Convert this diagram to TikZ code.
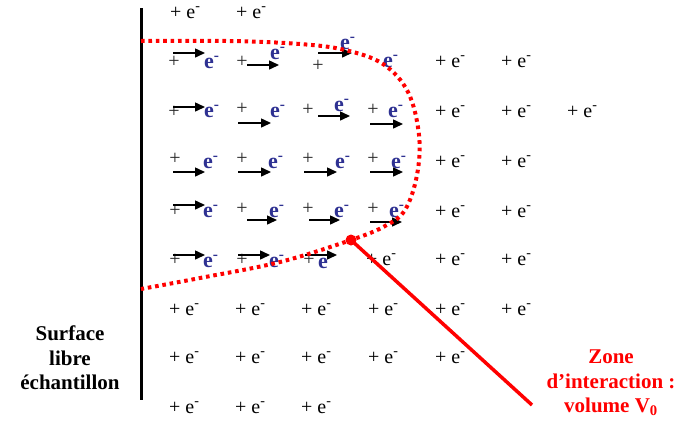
\documentclass[tikz,border=0pt]{standalone}
\usepackage{fontspec}
\setmainfont{Liberation Serif}
\newfontfamily\tms{Liberation Serif}
\usetikzlibrary{arrows.meta}
\definecolor{eblue}{RGB}{46,49,146}
\definecolor{zred}{RGB}{255,0,0}
\tikzset{
  pe/.style={inner sep=0pt, anchor=base west, font=\tms\fontsize{20}{22}\selectfont},
  pl/.style={inner sep=0pt, font=\tms\fontsize{20}{22}\selectfont, text=black!85},
  eb/.style={inner sep=0pt, anchor=base west, font=\tms\fontsize{22}{24}\selectfont\bfseries, text=eblue},
  mv/.style={line width=1.5pt, -{Triangle[length=10pt,width=9pt]}},
  lab/.style={align=center, inner sep=0pt, font=\tms\fontsize{21}{24.5}\selectfont\bfseries},
  zdots/.style={zred, line width=4pt, dash pattern=on 3.6pt off 3.8pt},
}
\begin{document}
\begin{tikzpicture}[x=1pt,y=-1pt]
\useasboundingbox (0,0) rectangle (676,421);
% surface line
\draw[line width=3pt] (141,8) -- (141,400);
% black ion/electron pairs
\foreach \x/\y [count=\i] in {176/13,242/13,
  441/62,507/62,
  441/112,507/112,573/112,
  441/162,507/162,
  441/212,507/212,
  372/260,441/260,507/260,
  175/310,241/310,307/310,374/310,441/310,507/310,
  175/358,241/358,307/358,374/358,441/358,
  175/408,241/408,307/408}
  \node[pe] (b\i) at (\x-6,\y+5) {+ e\textsuperscript{-}};
% moving electrons
\foreach \px/\py/\ex/\ey/\ax/\bx/\ay [count=\i] in {
  174/62/209/63/173/205/53,
  242/62/275/54/247/279/65,
  318/66/345/44/318/352/53,
  174/112/209/112/173/205/107,
  242/109/275/112/238/271/123,
  308/110/339/106/318/350/116,
  373/110/393/112/370/403/124,
  175/159/208/163/173/205/172,
  242/159/273/163/238/271/172,
  308/159/340/163/304/337/172,
  373/159/396/163/370/403/172,
  175/211/208/212/173/205/205,
  242/209/274/212/247/277/220,
  308/209/339/212/309/340/220,
  373/209/394/212/370/402/222,
  175/260/208/262/173/205/255,
  242/260/274/262/238/270/255,
  309/260/323/263/305/337/255}{
  \node[pl] (p\i) at (\px,\py) {+};
  \node[eb] (e\i) at (\ex-5,\ey+5) {e\textsuperscript{-}};
  \draw[mv] (\ax,\ay) -- (\bx,\ay);
}
\node[eb] (e0) at (388-5,62+5) {e\textsuperscript{-}};
% interaction zone
\draw[zdots] plot[smooth, tension=0.6] coordinates {(141,41) (230,41) (300,44) (345,50) (383,64) (408,92) (419,135) (417,175) (405,210) (385,226) (351,240) (280,262) (200,278) (141,289)};
\node[circle, fill=zred, inner sep=0pt, minimum size=11pt] (d) at (351,240) {};
\coordinate (z) at (532,405);
\draw[zred, line width=3.5pt] (d.center) -- (z);
% labels
\node[lab] (surf) at (70,358) {Surface\\libre\\échantillon};
\node[lab, text=zred] (zone) at (611,383) {Zone\\d’interaction :\\volume V\textsubscript{0}};
\end{tikzpicture}
\end{document}
